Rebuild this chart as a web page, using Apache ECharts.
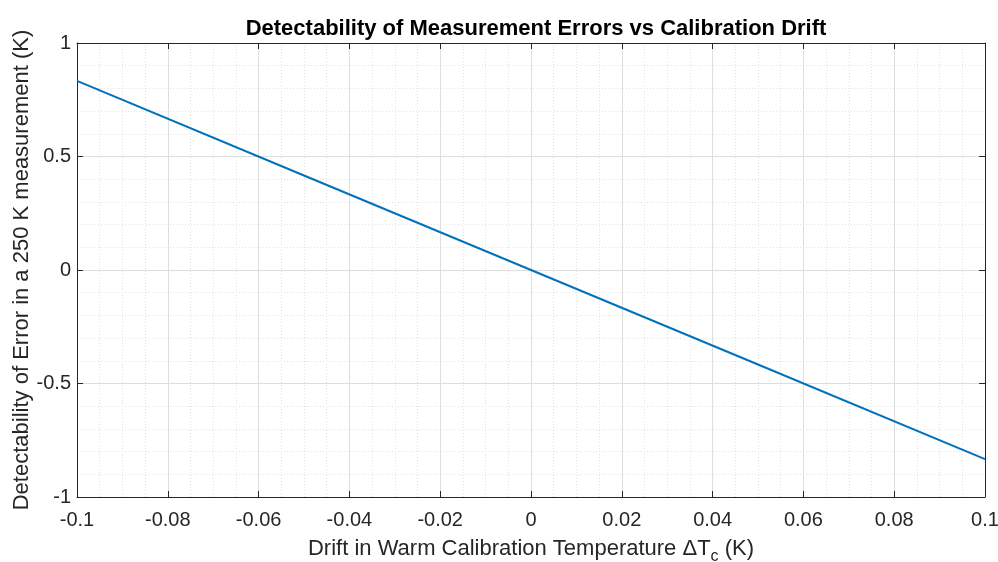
<!DOCTYPE html>
<html><head><meta charset="utf-8">
<script src="https://cdn.jsdelivr.net/npm/echarts@6/dist/echarts.min.js"></script>
<style>html,body{margin:0;padding:0;background:#fff}#c{width:998px;height:562px}</style>
</head><body><div id="c"></div>
<script>
var driftK = [-0.1, -0.05, 0, 0.05, 0.1];
var detectErrK = [0.833, 0.4165, 0, -0.4165, -0.833];
var xTicks = [-0.1, -0.08, -0.06, -0.04, -0.02, 0, 0.02, 0.04, 0.06, 0.08, 0.1];
var yTicks = [-1, -0.5, 0, 0.5, 1];

var font = 'Liberation Sans, Arial, sans-serif';
var chart = echarts.init(document.getElementById('c'));
var minorLine = {show: true, lineStyle: {color: '#e3e3e3', type: [1, 2], width: 1}};
var majorLine = {show: true, lineStyle: {color: '#dedede', type: 'solid', width: 1}};
function fmt(v){ var r = Math.round(v*1000)/1000; return r === 0 ? '0' : String(r); }
chart.setOption({
  animation: false,
  title: {text: 'Detectability of Measurement Errors vs Calibration Drift', left: 531, top: 13, textAlign: 'center',
    textStyle: {fontFamily: font, fontSize: 22, fontWeight: 'bold', color: '#000'}},
  grid: {left: 77, right: 13, top: 43, bottom: 65, containLabel: false, outerBoundsMode: 'none'},
  xAxis: [{
    type: 'value', min: -0.1, max: 0.1, interval: 0.02, position: 'bottom',
    axisLine: {show: true, onZero: false, lineStyle: {color: '#262626', width: 1}},
    axisTick: {show: true, inside: true, length: 6, lineStyle: {color: '#262626'}},
    axisLabel: {fontFamily: font, fontSize: 20, color: '#262626', margin: 13, formatter: fmt},
    splitLine: majorLine,
    minorTick: {show: false, splitNumber: 4},
    minorSplitLine: minorLine,
    nameMoveOverlap: false,
    name: '{n|Drift in Warm Calibration Temperature \u0394T}{s|c}{n| (K)}', nameLocation: 'middle', nameGap: 36,
    nameTextStyle: {rich: {n: {fontFamily: font, fontSize: 22, color: '#262626'}, s: {fontFamily: font, fontSize: 16, color: '#262626', padding: [16, 0, 0, 0]}}}
  }, {
    type: 'value', min: -0.1, max: 0.1, interval: 0.02, position: 'top',
    axisLine: {show: true, onZero: false, lineStyle: {color: '#262626', width: 1}},
    axisTick: {show: true, inside: true, length: 6, lineStyle: {color: '#262626'}},
    axisLabel: {show: false}, splitLine: {show: false}
  }],
  yAxis: [{
    type: 'value', min: -1, max: 1, interval: 0.5, position: 'left',
    axisLine: {show: true, onZero: false, lineStyle: {color: '#262626', width: 1}},
    axisTick: {show: true, inside: true, length: 6, lineStyle: {color: '#262626'}},
    axisLabel: {fontFamily: font, fontSize: 20, color: '#262626', margin: 6, formatter: fmt},
    splitLine: majorLine,
    minorTick: {show: false, splitNumber: 5},
    minorSplitLine: minorLine,
    nameMoveOverlap: false,
    name: 'Detectability of Error in a 250 K measurement (K)', nameLocation: 'middle', nameGap: 44,
    nameTextStyle: {fontFamily: font, fontSize: 22, color: '#262626'}
  }, {
    type: 'value', min: -1, max: 1, interval: 0.5, position: 'right',
    axisLine: {show: true, onZero: false, lineStyle: {color: '#262626', width: 1}},
    axisTick: {show: true, inside: true, length: 6, lineStyle: {color: '#262626'}},
    axisLabel: {show: false}, splitLine: {show: false}
  }],
  series: [{
    type: 'line', xAxisIndex: 0, yAxisIndex: 0, showSymbol: false,
    data: driftK.map(function(x, i){ return [x, detectErrK[i]]; }),
    lineStyle: {color: '#0072BD', width: 2}
  }]
});
</script></body></html>
